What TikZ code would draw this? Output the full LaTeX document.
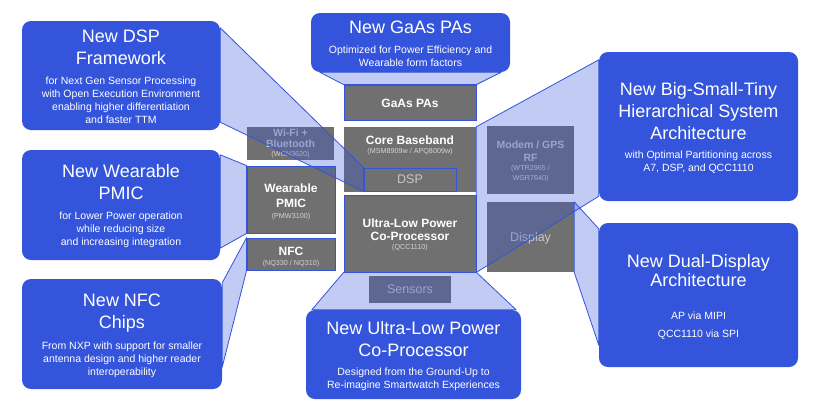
\documentclass[tikz,border=0pt]{standalone}
\usepackage{fontspec}
\setmainfont{Liberation Sans}
\definecolor{qblue}{RGB}{51,84,219}
\definecolor{chipgray}{RGB}{112,112,112}
\definecolor{dimtext}{RGB}{198,200,208}
\definecolor{subtext}{RGB}{212,212,212}
\tikzset{
  notebox/.style={fill=qblue, rounded corners=9pt, inner sep=0pt},
  chip/.style={fill=chipgray, inner sep=0pt},
  newchip/.style={chip, draw=qblue, line width=0.8pt},
  proj/.style={fill=qblue, fill opacity=0.3, draw=qblue, line width=0.8pt, line join=round},
  ttl/.style={text=white, align=center, inner sep=0pt, font=\fontsize{18}{22}\selectfont},
  bodytxt/.style={text=white, align=center, inner sep=0pt, font=\fontsize{10.5}{13}\selectfont},
  chipttl/.style={text=white, align=center, inner sep=0pt, font=\bfseries\fontsize{12}{13}\selectfont},
  dimttl/.style={text=dimtext, align=center, inner sep=0pt, font=\bfseries\fontsize{10.5}{11}\selectfont},
  dimlbl/.style={text=dimtext, inner sep=0pt, font=\fontsize{12.5}{14}\selectfont},
  partno/.style={text=subtext, align=center, inner sep=0pt, font=\fontsize{7.2}{10}\selectfont},
}
\begin{document}
\begin{tikzpicture}[x=1pt,y=-1pt]
\useasboundingbox[fill=white] (0,0) rectangle (825,408);
%吹き出し
\node[notebox, minimum width=198pt, minimum height=109pt] (dspfw) at (121,75.5) {};
\node[notebox, minimum width=199pt, minimum height=59pt] (gaasco) at (410.5,42.5) {};
\node[notebox, minimum width=199pt, minimum height=149pt] (bst) at (698.5,126.5) {};
\node[notebox, minimum width=199pt, minimum height=144pt] (dd) at (698.5,295) {};
\node[notebox, minimum width=198pt, minimum height=110pt] (pmicco) at (121,205) {};
\node[notebox, minimum width=200pt, minimum height=110pt] (nfcco) at (122,334) {};
\node[notebox, minimum width=215pt, minimum height=89pt] (ulpco) at (413.5,354.5) {};

\node[ttl] (dspfwt) at (121,47) {New DSP\\Framework};
\node[bodytxt] (dspfwb) at (121,100.5) {for Next Gen Sensor Processing\\with Open Execution Environment\\enabling higher differentiation\\and faster TTM};
\node[ttl] (gaascot) at (410.5,27) {New GaAs PAs};
\node[bodytxt] (gaascob) at (410.5,56.5) {Optimized for Power Efficiency and\\Wearable form factors};
\node[ttl] (bstt) at (698.5,111) {New Big-Small-Tiny\\Hierarchical System\\Architecture};
\node[bodytxt] (bstb) at (698.5,162.5) {with Optimal Partitioning across\\A7, DSP, and QCC1110};
\node[ttl] (ddt) at (698.5,270.5) {New Dual-Display\\[-3pt]Architecture};
\node[bodytxt] (ddb) at (698.5,326) {AP via MIPI\\[5pt]QCC1110 via SPI};
\node[ttl] (pmiccot) at (121,182.5) {New Wearable\\PMIC};
\node[bodytxt] (pmiccob) at (121,230) {for Lower Power operation\\while reducing size\\and increasing integration};
\node[ttl] (nfccot) at (122,313) {New NFC\\Chips};
\node[bodytxt] (nfccob) at (122,360) {From NXP with support for smaller\\antenna design and higher reader\\interoperability};
\node[ttl] (ulpcot) at (413.5,339.5) {New Ultra-Low Power\\Co-Processor};
\node[bodytxt] (ulpcob) at (413.5,379.5) {Designed from the Ground-Up to\\Re-imagine Smartwatch Experiences};

%チップ
\node[newchip, minimum width=132pt, minimum height=35pt] (gaas) at (410,102.5) {};
\node[chip, minimum width=132pt, minimum height=65pt] (cbb) at (410,159.5) {};
\node[newchip, minimum width=92pt, minimum height=23pt] (dsp) at (410,179.5) {};
\node[newchip, minimum width=132pt, minimum height=77pt] (ulp) at (410,233.5) {};
\node[chip, minimum width=82pt, minimum height=27pt] (sens) at (410,289.5) {};
\node[chip, minimum width=87pt, minimum height=33pt] (wifi) at (290.5,143.5) {};
\node[newchip, minimum width=88pt, minimum height=67pt] (pmic) at (291,199.5) {};
\node[newchip, minimum width=88pt, minimum height=32pt] (nfc) at (291,254) {};
\node[chip, minimum width=87pt, minimum height=68pt] (modem) at (530.5,160) {};
\node[chip, minimum width=87pt, minimum height=70pt] (disp) at (530.5,237) {};

\node[chipttl] (gaast) at (410,103) {GaAs PAs};
\node[chipttl] (cbbt) at (410,140) {Core Baseband};
\node[partno] (cbbn) at (410,151.5) {(MSM8909w / APQ8009w)};
\node[dimlbl] (dspt) at (410,179.5) {DSP};
\node[chipttl] (ulpt) at (410,229.5) {Ultra-Low Power\\Co-Processor};
\node[partno] (ulpn) at (410,247.5) {(QCC1110)};
\node[dimlbl] (senst) at (410,289.5) {Sensors};
\node[dimttl] (wifit) at (290.5,138.5) {Wi-Fi +\\Bluetooth};
\node[partno] (wifin) at (290.5,155) {(WCN3620)};
\node[chipttl] (pmict) at (291,195.5) {Wearable\\[2pt]PMIC};
\node[partno] (pmicn) at (291,216.5) {(PMW3100)};
\node[chipttl] (nfct) at (291,251) {NFC};
\node[partno] (nfcn) at (291,263.5) {(NQ330 / NQ310)};
\node[dimttl] (modemt) at (530.5,151.5) {Modem / GPS\\[2pt]RF};
\node[partno] (modemn) at (530.5,173.5) {(WTR2965 /\\WGR7640)};
\node[dimlbl] (dispt) at (530.5,238) {Display};

%投影
\filldraw[proj] ([yshift=-7pt]dspfw.north east) -- (dsp.north west) -- (dsp.south west) -- ([yshift=8pt]dspfw.south east) -- cycle;
\filldraw[proj] ([xshift=9pt]gaasco.south west) -- ([xshift=-9pt]gaasco.south east) -- (gaas.north east) -- (gaas.north west) -- cycle;
\filldraw[proj] ([yshift=-8pt]bst.north west) -- (cbb.north east) -- (ulp.south east) -- ([yshift=5pt]bst.south west) -- cycle;
\filldraw[proj] (disp.north east) -- ([yshift=-6pt]dd.north west) -- ([yshift=22pt]dd.south west) -- (disp.south east) -- cycle;
\filldraw[proj] (ulp.south west) -- (ulp.south east) -- ([xshift=-5pt]ulpco.north east) -- ([xshift=6pt]ulpco.north west) -- cycle;
\filldraw[proj] ([yshift=-5pt]pmicco.north east) -- (pmic.north west) -- (pmic.south west) -- ([yshift=12pt]pmicco.south east) -- cycle;
\filldraw[proj] ([yshift=-4pt]nfcco.north east) -- (nfc.north west) -- (nfc.south west) -- ([yshift=22pt]nfcco.south east) -- cycle;
\end{tikzpicture}
\end{document}
